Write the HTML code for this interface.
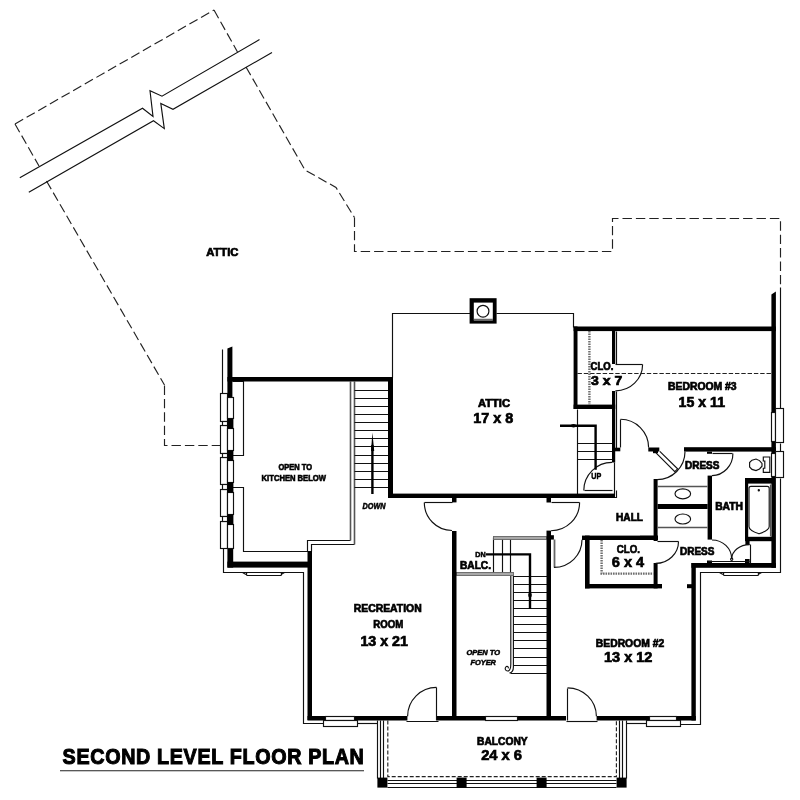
<!DOCTYPE html>
<html><head><meta charset="utf-8">
<style>
html,body{margin:0;padding:0;background:#fff;}
svg{display:block;will-change:transform;}
text{font-family:"Liberation Sans",sans-serif;font-weight:bold;fill:#000;stroke:#000;stroke-width:0.7;}
.t{stroke:#111;stroke-width:1.15;fill:none;}
.tw{stroke:#111;stroke-width:1.15;fill:#fff;}
.d{stroke:#222;stroke-width:1.15;fill:none;stroke-dasharray:9.4 4;}
.w{fill:#000;stroke:none;}
.g{stroke:#6e6e6e;stroke-width:2.4;fill:none;stroke-dasharray:1.6 0.9;}
.gl{stroke:#666;stroke-width:1;fill:none;}
.a{stroke:#000;stroke-width:2.4;fill:none;}
</style></head><body>
<svg width="800" height="800" viewBox="0 0 800 800">
<rect width="800" height="800" fill="#fff"/>

<g class="d">
<path d="M15,124 L214,10"/>
<path d="M15,124 L39,166"/>
<path d="M46.5,181 L164.5,385"/>
<path d="M164.5,385.5 V445.5 H220.5"/>
<path d="M214,10 L237.5,52"/>
<path d="M246,67 L305,170 L336,187.5 L354.5,217.5"/>
<path d="M354.5,217.5 V251.5 H612.5 V218.5 H780.5 V288.5"/>
<path d="M577.5,373.5 H771.5" style="stroke-dasharray:4.4 1.9"/>
</g>

<g class="t">
<path d="M19.8,177.8 L142.5,108.2 L153,116.5 L150,90.7 L162,96.2 L259.5,39.6"/>
<path d="M28.8,192.2 L153.5,120.8 L164.3,128.6 L160.8,103.4 L173,109.3 L272,52.5"/>
</g>

<g class="t">
<path d="M392.5,377.5 V313.5 H470.5"/>
<path d="M496.5,313.5 H573.5 V327.5"/>
<path d="M232.5,381.5 H243.5 V455.5 H232.5"/>
<path d="M232.5,487.5 H243.5 V551.5 H307.5 V540.5 H350.5"/>
<path d="M311.5,551.5 V544.5 H354.5"/>
<path d="M350.5,540.5 V381.5 M354.5,544.5 V381.5" style="stroke:#555;stroke-width:1.6"/>
<path d="M222.5,349.5 V393.5"/>
<path d="M223.5,548.5 V572.5 H303.5 V723.5 H324.5"/>
<path d="M357.5,723.5 H377.5"/>
<rect x="246.5" y="572.5" width="35.0" height="3.0" rx="1"/>
<path d="M242.5,572.5 L246,574.5 M284.5,572.5 L281,574.5"/>
<path d="M354.5,390.5 H388.5"/>
<path d="M354.5,398.5 H388.5"/>
<path d="M354.5,406.5 H388.5"/>
<path d="M354.5,414.5 H388.5"/>
<path d="M354.5,422.5 H388.5"/>
<path d="M354.5,430.5 H388.5"/>
<path d="M354.5,438.5 H388.5"/>
<path d="M354.5,446.5 H388.5"/>
<path d="M354.5,455.5 H388.5"/>
<path d="M354.5,463.5 H388.5"/>
<path d="M354.5,471.5 H388.5"/>
<path d="M354.5,479.5 H388.5"/>
<path d="M354.5,487.5 H388.5"/>
<path d="M577.5,409.5 V494.5"/>
<path d="M577.5,443.5 H612.5"/>
<path d="M577.5,451.5 H612.5"/>
<path d="M577.5,459.5 H612.5"/>
<path d="M616.5,331.5 V364.5 M616.5,391.5 V449.5"/>
<path d="M614.5,462.5 V494.5 M616.5,490.5 V497.5 H614.5"/>
<path d="M513.5,576.5 H547.5"/>
<path d="M513.5,584.5 H547.5"/>
<path d="M513.5,592.5 H547.5"/>
<path d="M513.5,600.5 H547.5"/>
<path d="M513.5,608.5 H547.5"/>
<path d="M513.5,616.5 H547.5"/>
<path d="M513.5,624.5 H547.5"/>
<path d="M513.5,632.5 H547.5"/>
<path d="M513.5,640.5 H547.5"/>
<path d="M513.5,648.5 H547.5"/>
<path d="M513.5,657.5 H547.5"/>
<path d="M513.5,665.5 H547.5"/>
<path d="M510.5,673.5 H547.5"/>
<path d="M493.5,573.5 V537.5 M502.5,537.5 V573.5 M510.5,537.5 V573.5"/>
<path d="M510.8,575.6 V664 C510.8,668.4 509.6,671 507.6,671 C505.4,671 504.6,668.6 505.8,667 C507,665.6 508.8,666.6 508.2,668.4"/>
<path d="M513.4,575.6 V667 Q513.4,672.4 509.4,673"/>
<path d="M780.5,409.5 V287.5"/>
<path d="M780.5,443.5 V451.5"/>
<path d="M780.5,478.5 V572.5 H700.5 V724.5 H680.5"/>
<rect x="723.5" y="572.5" width="35.0" height="3.0" rx="1"/>
<path d="M719.4,572.5 L723,574.5 M761.6,572.5 L758,574.5"/>
<path d="M626.5,723.5 H646.5"/>
</g>
<g class="gl">
<rect x="493.5" y="536.5" width="53.0" height="3.0" style="fill:#a8a8a8;stroke:#666;stroke-width:0.9"/>
<rect x="456.5" y="572.5" width="57.0" height="3.0" style="fill:#a8a8a8;stroke:#666;stroke-width:0.9"/>
</g>
<g class="w">
<polygon points="227.4,348.5 232.4,346.5 232.4,397 227.4,397"/>
<rect x="227.4" y="377" width="165.6" height="4.5"/>
<rect x="388" y="377" width="5" height="121"/>
<rect x="388" y="493.6" width="227" height="4.4"/>
<rect x="227.4" y="546.6" width="5.8" height="21"/>
<rect x="227.4" y="561.6" width="84.2" height="6"/>
<rect x="307.5" y="551" width="4.5" height="169"/>
<rect x="307.5" y="716" width="18.1" height="4.5"/>
<rect x="354" y="716" width="53.4" height="4.5"/>
<rect x="437" y="716" width="48.6" height="4.5"/>
<rect x="517.4" y="716" width="48.6" height="4.5"/>
<rect x="596.6" y="716" width="52.4" height="4.5"/>
<rect x="676.8" y="716" width="19" height="4.5"/>
<rect x="452" y="498" width="4.5" height="4.4"/>
<rect x="452" y="531" width="4.5" height="189"/>
<rect x="546.5" y="498" width="4.5" height="4.5"/>
<rect x="546.5" y="530.6" width="4.5" height="189.4"/>
<rect x="550.9" y="535.2" width="3" height="4.4"/>
<rect x="691.4" y="563" width="4.4" height="157.5"/>
<rect x="691.4" y="563" width="84.5" height="4.8"/>
<polygon points="771.4,294.5 775.9,291.5 775.9,412.2 771.4,412.2"/>
<rect x="771.4" y="440.8" width="4.5" height="12.6"/>
<rect x="771.4" y="476.4" width="4.5" height="91.4"/>
<rect x="573.6" y="326.5" width="202.3" height="4.6"/>
<rect x="573.6" y="326.5" width="3.9" height="82.5"/>
<rect x="573.6" y="404.6" width="41.6" height="4.4"/>
<rect x="612" y="331" width="3.2" height="33"/>
<rect x="612" y="391" width="3.2" height="71.5"/>
<rect x="614.5" y="447.7" width="5.8" height="3.6"/>
<rect x="648.3" y="447.5" width="11" height="4"/>
<rect x="653" y="451" width="5" height="2.2"/>
<rect x="684" y="447.2" width="91.9" height="4.4"/>
<rect x="653.6" y="479" width="4" height="62"/>
<rect x="640" y="535.8" width="17.6" height="4.2"/>
<rect x="657.6" y="504" width="50" height="5"/>
<rect x="707.6" y="475.6" width="4.4" height="64"/>
<rect x="707" y="451.6" width="5" height="2.2"/>
<rect x="745" y="478" width="27" height="5.6"/>
<rect x="745" y="478" width="3.2" height="63"/>
<rect x="745" y="536.8" width="27" height="4.4"/>
<rect x="745.4" y="540" width="4.2" height="5"/>
<rect x="707" y="560.5" width="5" height="2.5"/>
<rect x="745" y="559" width="4.6" height="4"/>
<rect x="582" y="535.6" width="76" height="4.4"/>
<rect x="585" y="535.6" width="4.6" height="52.8"/>
<rect x="585" y="584" width="77" height="4.4"/>
<rect x="653.6" y="563" width="4" height="25.4"/>
<rect x="687" y="584.2" width="5" height="4"/>
</g>

<g class="tw">
<rect x="220.5" y="393.5" width="7.0" height="28.0"/>
<rect x="227.5" y="397.5" width="6.0" height="21.0"/>
<rect x="220.5" y="425.5" width="7.0" height="28.0"/>
<rect x="227.5" y="428.5" width="6.0" height="22.0"/>
<rect x="220.5" y="457.5" width="7.0" height="27.0"/>
<rect x="227.5" y="460.5" width="6.0" height="22.0"/>
<rect x="220.5" y="489.5" width="7.0" height="27.0"/>
<rect x="227.5" y="492.5" width="6.0" height="22.0"/>
<rect x="220.5" y="521.5" width="7.0" height="27.0"/>
<rect x="227.5" y="524.5" width="6.0" height="24.0"/>
<rect x="222.5" y="421.5" width="5.0" height="4.0"/>
<rect x="222.5" y="453.5" width="5.0" height="4.0"/>
<rect x="222.5" y="484.5" width="5.0" height="5.0"/>
<rect x="222.5" y="516.5" width="5.0" height="5.0"/>
</g>
<g class="w">
<rect x="227.4" y="418.8" width="6" height="10.0"/>
<rect x="227.4" y="450.5" width="6" height="10.3"/>
<rect x="227.4" y="482.4" width="6" height="10.1"/>
<rect x="227.4" y="514.6" width="6" height="10.2"/>
</g>
<g class="tw">
<rect x="325.5" y="716.5" width="29.0" height="4.0"/>
<rect x="323.5" y="720.5" width="34.0" height="6.0"/>
<rect x="649.5" y="716.5" width="27.0" height="4.0"/>
<rect x="646.5" y="720.5" width="34.0" height="6.0"/>
<rect x="485.5" y="716.5" width="32.0" height="4.0"/>
<rect x="771.5" y="412.5" width="4.0" height="29.0"/>
<rect x="775.5" y="408.5" width="8.0" height="34.0"/>
<rect x="771.5" y="453.5" width="4.0" height="23.0"/>
<rect x="775.5" y="451.5" width="8.0" height="26.0"/>
</g>
<rect class="w" x="469.6" y="298.2" width="27" height="25.4"/>
<rect x="473.8" y="302.6" width="19" height="17.8" fill="#fff"/>
<path class="t" d="M473.8,319.3 H492.8" style="stroke-width:0.8"/>
<circle class="t" cx="483" cy="311.2" r="5.9" style="stroke-width:1.2"/>
<g class="t">
<path d="M452.5,502.5 H424.5"/>
<path d="M424.3,502.5 A27.8,28 0 0 0 452,530.5"/>
<path d="M551.5,502.5 H579.5"/>
<path d="M579.6,502.5 A28.6,28.2 0 0 1 551,530.7"/>
<path d="M554.5,539.5 V567.5" style="stroke:#666;stroke-width:1.8"/>
<path d="M554,567.4 A28,27.6 0 0 0 582,539.8"/>
<path d="M615.5,364.5 H642.5"/>
<path d="M642.6,364.5 A27,26.4 0 0 1 615.4,390.8"/>
<path d="M620.5,447.5 V419.5"/>
<path d="M620.5,419.3 A28.2,28.3 0 0 1 648.6,447.5"/>
<path d="M612.5,490.5 H584.5"/>
<path d="M583.8,490.5 A28.2,28.2 0 0 1 612,462.4"/>
<path d="M685,451.8 A28,28 0 0 1 657,479.6"/>
<path d="M656,452.8 L674.8,471.6 L677.6,468.8 L659.8,451.4"/>
<path d="M712.5,453.5 H732.5"/>
<path d="M732.9,453.5 A21.2,22 0 0 1 712,475.6"/>
<path d="M657.5,541.5 H678.5"/>
<path d="M678.5,541.5 A22.8,21.8 0 0 1 655.6,563.4"/>
<path d="M712,540 A19.6,18.6 0 0 1 731.6,558.6"/>
<path d="M749.6,544.6 A17.8,14 0 0 0 731.8,558.6"/>
<path d="M708.5,561.5 H749.5"/>
<circle cx="731.7" cy="559.2" r="1.1"/>
<path d="M750.5,544.5 V563.5"/>
<path d="M436.5,720.5 V687.5"/>
<path d="M436.5,687.4 A29,29 0 0 0 407.6,716.2"/>
<path d="M406.5,721.5 H438.5"/>
<path d="M567.5,720.5 V688.5"/>
<path d="M567.5,687.8 A29,28.6 0 0 1 596.4,716.2"/>
<path d="M566.5,721.5 H597.5"/>
</g>
<g class="t">
<path d="M657.5,486.5 H707.5 M657.5,527.5 H707.5" style="stroke:#555;stroke-width:1.5"/>
<ellipse cx="682.8" cy="493.8" rx="7.8" ry="5"/>
<ellipse cx="682.8" cy="519" rx="7.8" ry="5"/>
<path d="M763.3,457 H769.8 V472.4 H763.3 V468.2 L764.8,468.2 L764.8,461 L763.3,461 Z"/>
<polygon points="749.6,462.5 752,460.2 756,459 759.5,460.6 762,463.4 762,466.2 759.5,469 756,470.6 752,469.4 749.6,467"/>
<path d="M770.5,484.5 V536.5" style="stroke:#555"/>
<path d="M751,486.4 H767.2 Q769.2,486.4 769.2,488.4 V526.5 Q769.2,530.5 759,533.8 Q749,530.5 749,526.5 V488.4 Q749,486.4 751,486.4 Z"/>
<circle cx="758.8" cy="490.3" r="0.6" fill="#000"/>
</g>
<path class="g" d="M589.4,331 V404.6"/>
<path class="g" d="M601.6,540 V573.6 H653.4"/>
<g class="a">
<path d="M372.4,445 V494"/>
<path d="M560,425.8 H595.6 V469.8"/>
<path d="M486,554.4 H530 V609"/>
</g>
<polygon class="w" points="372.4,432.5 371,451 374.2,451"/>
<ellipse class="w" cx="573.5" cy="425.8" rx="2.8" ry="1.8"/>
<ellipse class="w" cx="530" cy="595" rx="1.8" ry="2.6"/>
<g class="t">
<path d="M377.5,720.5 V778.5 M380.5,720.5 V778.5 M383.5,720.5 V778.5"/>
<path d="M619.5,720.5 V778.5 M622.5,720.5 V778.5 M626.5,720.5 V778.5"/>
<path d="M387.5,780.5 H616.5 M387.5,783.5 H616.5 M387.5,787.5 H616.5"/>
</g>
<path class="d" style="stroke-dasharray:4 2" d="M387.8,720.5 V776.6 H616.4 V720.5"/>
<g class="w">
<rect x="377.4" y="777.6" width="10" height="10"/>
<rect x="456.6" y="777.6" width="10" height="10"/>
<rect x="536.6" y="777.6" width="10" height="10"/>
<rect x="616.6" y="777.6" width="10" height="10"/>
</g>
<g>
<text x="206.2" y="256" font-size="10.8" textLength="32.2" lengthAdjust="spacingAndGlyphs">ATTIC</text>
<text x="478" y="406.6" font-size="11" textLength="32" lengthAdjust="spacingAndGlyphs">ATTIC</text>
<text x="473.2" y="423" font-size="14.8" textLength="40" lengthAdjust="spacingAndGlyphs">17 x 8</text>
<text x="590.5" y="370.1" font-size="10.6" textLength="22.8" lengthAdjust="spacingAndGlyphs">CLO.</text>
<text x="591" y="385" font-size="13" textLength="31.2" lengthAdjust="spacingAndGlyphs">3 x 7</text>
<text x="668" y="390.3" font-size="10.4" textLength="68.6" lengthAdjust="spacingAndGlyphs">BEDROOM &#35;3</text>
<text x="678.6" y="407" font-size="14" textLength="46.4" lengthAdjust="spacingAndGlyphs">15 x 11</text>
<text x="685" y="468.9" font-size="10.1" textLength="34.4" lengthAdjust="spacingAndGlyphs">DRESS</text>
<text x="715.2" y="509.9" font-size="10.1" textLength="27.8" lengthAdjust="spacingAndGlyphs">BATH</text>
<text x="680" y="554.9" font-size="10.1" textLength="34.4" lengthAdjust="spacingAndGlyphs">DRESS</text>
<text x="616" y="520.6" font-size="10.4" textLength="27" lengthAdjust="spacingAndGlyphs">HALL</text>
<text x="616.8" y="552.5" font-size="11.6" textLength="23.2" lengthAdjust="spacingAndGlyphs">CLO.</text>
<text x="611.8" y="567.1" font-size="15.2" textLength="32.4" lengthAdjust="spacingAndGlyphs">6 x 4</text>
<text x="595.8" y="646.9" font-size="11" textLength="68.4" lengthAdjust="spacingAndGlyphs">BEDROOM &#35;2</text>
<text x="604" y="661.6" font-size="14.4" textLength="48.4" lengthAdjust="spacingAndGlyphs">13 x 12</text>
<text x="353.7" y="612.4" font-size="10.8" textLength="68" lengthAdjust="spacingAndGlyphs">RECREATION</text>
<text x="373.2" y="628.1" font-size="10.8" textLength="30" lengthAdjust="spacingAndGlyphs">ROOM</text>
<text x="360.4" y="645.7" font-size="14.2" textLength="47.6" lengthAdjust="spacingAndGlyphs">13 x 21</text>
<text x="477" y="744.6" font-size="10.4" textLength="50.6" lengthAdjust="spacingAndGlyphs">BALCONY</text>
<text x="481.2" y="760.3" font-size="14.2" textLength="40.8" lengthAdjust="spacingAndGlyphs">24 x 6</text>
<text x="460" y="568.9" font-size="10.6" textLength="31" lengthAdjust="spacingAndGlyphs">BALC.</text>
<text x="475.2" y="557.1" font-size="7.6" textLength="10.4" lengthAdjust="spacingAndGlyphs" style="stroke-width:0.5">DN</text>
<text x="591.3" y="478.8" font-size="8.6" textLength="10" lengthAdjust="spacingAndGlyphs" style="stroke-width:0.45">UP</text>
<text x="278.4" y="469.7" font-size="8.4" textLength="33.6" lengthAdjust="spacingAndGlyphs" style="stroke-width:0.6">OPEN TO</text>
<text x="261.6" y="480.9" font-size="8.4" textLength="64.4" lengthAdjust="spacingAndGlyphs" style="stroke-width:0.6">KITCHEN BELOW</text>
<text x="362.6" y="508.7" font-size="9" textLength="23" lengthAdjust="spacingAndGlyphs" font-style="italic" style="stroke-width:0.55">DOWN</text>
<text x="466.4" y="655" font-size="7.6" textLength="33.6" lengthAdjust="spacingAndGlyphs" font-style="italic" style="stroke-width:0.5">OPEN TO</text>
<text x="470.4" y="665.4" font-size="7.6" textLength="25.6" lengthAdjust="spacingAndGlyphs" font-style="italic" style="stroke-width:0.5">FOYER</text>
<text transform="translate(62.6,764) scale(0.885,1)" x="0" y="0" font-size="22.3" textLength="340.4" lengthAdjust="spacing" style="stroke-width:1.05">SECOND LEVEL FLOOR PLAN</text>
</g>
<path d="M60,770.8 H364" stroke="#222" stroke-width="1.1" fill="none"/>
</svg>
</body></html>
